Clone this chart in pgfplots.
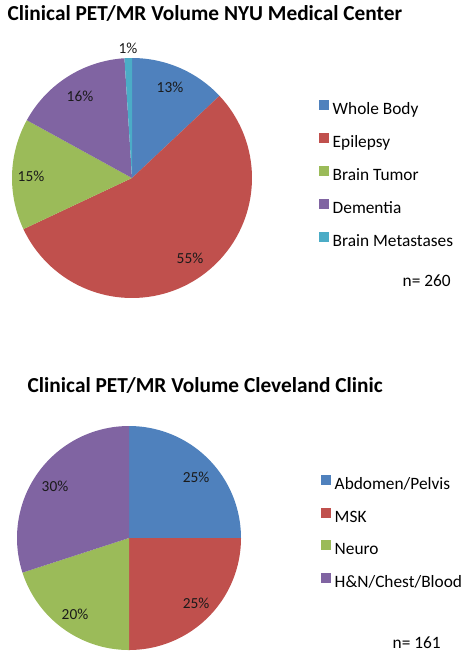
\documentclass[border=0pt]{standalone}
\usepackage{pgfplots}
\pgfplotsset{compat=1.18}
\usepackage{fontspec}
\setmainfont{Carlito}
\definecolor{cBlue}{HTML}{4F81BD}
\definecolor{cRed}{HTML}{C0504D}
\definecolor{cGreen}{HTML}{9BBB59}
\definecolor{cPurple}{HTML}{8064A2}
\definecolor{cAqua}{HTML}{4BACC6}
\definecolor{lbl}{HTML}{1A1A1A}
\begin{document}
\begin{tikzpicture}
\useasboundingbox (0pt,0pt) rectangle (352.5pt,-489.75pt);
\pgfplotsset{
  pie/.style={hide axis, scale only axis, width=352.5pt, xmin=0, xmax=470,
    y dir=reverse, enlargelimits=false, clip=false,
    legend cell align=left,
    legend style={draw=none, fill=none, inner sep=0pt, anchor=north west,
      font=\fontsize{13}{15}\selectfont,
      nodes={inner sep=0pt, text height=9pt, text depth=3pt},
      /tikz/every odd column/.append style={column sep=2.6pt}},
    legend image code/.code={\fill[##1,draw=none] (0pt,0.5pt) rectangle (7.5pt,8pt);},
  },
  slice/.style={draw=none, fill=#1, samples=80, variable=\t},
  lab/.style={only marks, mark=none, nodes near coords, point meta=explicit symbolic,
    every node near coord/.style={anchor=center, text=lbl, font=\fontsize{11.5}{13}\selectfont},
    forget plot},
}
% ---------- NYU ----------
\begin{axis}[pie, at={(0pt,0pt)}, anchor=north west, height=247.5pt, ymin=0, ymax=330,
  legend style={at={(0.6787,0.698)}, row sep=10.7pt}]
\addplot[slice=cBlue, domain=0:13] ({132+120*sin(3.6*t)},{178-120*cos(3.6*t)}) -- (axis cs:132,178) -- cycle;
\addlegendentry{Whole Body}
\addplot[slice=cRed, domain=13:68] ({132+120*sin(3.6*t)},{178-120*cos(3.6*t)}) -- (axis cs:132,178) -- cycle;
\addlegendentry{Epilepsy}
\addplot[slice=cGreen, domain=68:83] ({132+120*sin(3.6*t)},{178-120*cos(3.6*t)}) -- (axis cs:132,178) -- cycle;
\addlegendentry{Brain Tumor}
\addplot[slice=cPurple, domain=83:99] ({132+120*sin(3.6*t)},{178-120*cos(3.6*t)}) -- (axis cs:132,178) -- cycle;
\addlegendentry{Dementia}
\addplot[slice=cAqua, domain=99:100] ({132+120*sin(3.6*t)},{178-120*cos(3.6*t)}) -- (axis cs:132,178) -- cycle;
\addlegendentry{Brain Metastases}
\addplot[lab] coordinates {(170,87) [13\%] (190,258) [55\%] (31,176) [15\%] (80,96) [16\%] (128,48) [1\%]};
\node[anchor=base west, font=\fontsize{16}{19}\selectfont\bfseries] at (axis cs:3,20) {Clinical PET/MR Volume NYU Medical Center};
\node[anchor=base west, font=\fontsize{13}{15}\selectfont] at (axis cs:398,286) {n= 260};
\end{axis}
% ---------- Cleveland ----------
\begin{axis}[pie, at={(0pt,-247.5pt)}, anchor=north west, height=242.25pt, ymin=330, ymax=653,
  legend style={at={(0.683,0.552)}, row sep=10.45pt}]
\addplot[slice=cBlue, domain=0:25] ({129+112*sin(3.6*t)},{538-112*cos(3.6*t)}) -- (axis cs:129,538) -- cycle;
\addlegendentry{Abdomen/Pelvis}
\addplot[slice=cRed, domain=25:50] ({129+112*sin(3.6*t)},{538-112*cos(3.6*t)}) -- (axis cs:129,538) -- cycle;
\addlegendentry{MSK}
\addplot[slice=cGreen, domain=50:70] ({129+112*sin(3.6*t)},{538-112*cos(3.6*t)}) -- (axis cs:129,538) -- cycle;
\addlegendentry{Neuro}
\addplot[slice=cPurple, domain=70:100] ({129+112*sin(3.6*t)},{538-112*cos(3.6*t)}) -- (axis cs:129,538) -- cycle;
\addlegendentry{H\&N/Chest/Blood}
\addplot[lab] coordinates {(196,477) [25\%] (196,603) [25\%] (75,614) [20\%] (55,486) [30\%]};
\node[anchor=base west, font=\fontsize{16}{19}\selectfont\bfseries] at (axis cs:23,392) {Clinical PET/MR Volume Cleveland Clinic};
\node[anchor=base west, font=\fontsize{13}{15}\selectfont] at (axis cs:388,648) {n= 161};
\end{axis}
\end{tikzpicture}
\end{document}
